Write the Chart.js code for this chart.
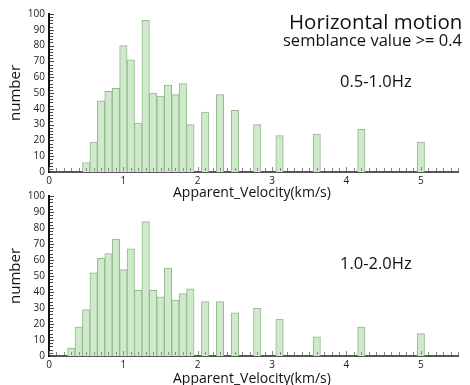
<!DOCTYPE html>
<html lang="en">
<head>
  <meta charset="UTF-8" />
  <title>Horizontal motion</title>
  <script src="https://cdn.jsdelivr.net/npm/chart.js"></script>
  <style>
    body {
      margin: 0;
      background: #fff;
      font-family: 'Open Sans', 'Liberation Sans', sans-serif;
    }
    .page {
      position: relative;
      width: 470px;
      height: 385px;
      overflow: hidden;
    }
    .box {
      position: absolute;
      left: 0;
      width: 470px;
      height: 200px;
    }
    .txt {
      position: absolute;
      color: #111;
      white-space: nowrap;
      line-height: 1;
    }
    .ylab {
      position: absolute;
      left: 14px;
      transform: translate(-50%, -50%) rotate(-90deg);
      font-size: 15px;
      line-height: 1;
      color: #111;
    }
  </style>
</head>
<body>
<div class="page">
  <div class="box" style="top:0"><canvas id="topChart"></canvas></div>
  <div class="box" style="top:185px"><canvas id="bottomChart"></canvas></div>

  <div class="txt" style="left:289px; top:11px; font-size:20.5px;">Horizontal motion</div>
  <div class="txt" style="left:283px; top:32px; font-size:16.5px;">semblance value &gt;= 0.4</div>
  <div class="txt" style="left:340px; top:73px; font-size:16.5px;">0.5-1.0Hz</div>
  <div class="txt" style="left:340px; top:255px; font-size:16.5px;">1.0-2.0Hz</div>

  <div class="ylab" style="top:93px">number</div>
  <div class="ylab" style="top:276px">number</div>

  <div class="txt" style="left:173px; top:185px; font-size:14px;">Apparent_Velocity(km/s)</div>
  <div class="txt" style="left:173px; top:371px; font-size:14px;">Apparent_Velocity(km/s)</div>
</div>

<script>
  // apparent velocity bins (km/s) and counts, 0.5-1.0Hz
  const topVelocity = [0.5, 0.6, 0.7, 0.8, 0.9, 1.0, 1.1, 1.2, 1.3, 1.4, 1.5, 1.6, 1.7, 1.8, 1.9,
                       2.1, 2.3, 2.5, 2.8, 3.1, 3.6, 4.2, 5.0];
  const topCount = [6, 19, 45, 51, 53, 80, 71, 31, 96, 50, 48, 55, 49, 56, 30,
                    38, 49, 39, 30, 23, 24, 27, 19];

  // 1.0-2.0Hz
  const bottomVelocity = [0.3, 0.4, 0.5, 0.6, 0.7, 0.8, 0.9, 1.0, 1.1, 1.2, 1.3, 1.4, 1.5, 1.6, 1.7, 1.8, 1.9,
                          2.1, 2.3, 2.5, 2.8, 3.1, 3.6, 4.2, 5.0];
  const bottomCount = [5, 18, 29, 52, 61, 64, 73, 54, 67, 41, 84, 41, 37, 55, 35, 39, 42,
                       34, 34, 27, 30, 23, 12, 18, 14];

  const xTickLabels = [0, 1, 2, 3, 4, 5];
  const yTickLabels = [0, 10, 20, 30, 40, 50, 60, 70, 80, 90, 100];

  // small ticks pointing into the plot, like the original figure
  const innerTicks = {
    id: 'innerTicks',
    afterDraw(chart) {
      const ctx = chart.ctx;
      const xs = chart.scales.x, ys = chart.scales.y;
      ctx.save();
      ctx.lineWidth = 1;
      ctx.strokeStyle = '#888';
      for (let i = 0; i <= 55; i++) {
        const px = Math.round(xs.getPixelForValue(i / 10)) + 0.5;
        const len = i % 10 === 0 ? 4 : 3;
        ctx.beginPath();
        ctx.moveTo(px, xs.top - 1);
        ctx.lineTo(px, xs.top - 1 - len);
        ctx.stroke();
      }
      ctx.strokeStyle = '#444';
      for (let v = 0; v <= 100; v += 2) {
        const py = Math.round(ys.getPixelForValue(v)) + 0.5;
        const len = v % 10 === 0 ? 4 : 3;
        ctx.beginPath();
        ctx.moveTo(ys.right + 1, py);
        ctx.lineTo(ys.right + 1 + len, py);
        ctx.stroke();
      }
      ctx.restore();
    }
  };

  function makeChart(id, velocity, count, padTop, xHeight) {
    return new Chart(document.getElementById(id), {
      type: 'bar',
      data: {
        datasets: [{
          data: velocity.map((v, i) => ({ x: v, y: count[i] })),
          backgroundColor: '#cfeacb',
          borderColor: '#93b98d',
          borderWidth: 1,
          barPercentage: 1,
          categoryPercentage: 1
        }]
      },
      options: {
        responsive: false,
        animation: false,
        layout: { padding: { top: padTop, right: 12, left: 0, bottom: 0 } },
        plugins: { legend: { display: false }, tooltip: { enabled: false } },
        scales: {
          x: {
            type: 'linear',
            min: 0,
            max: 5.5,
            offset: false,
            afterBuildTicks: s => { s.ticks = xTickLabels.map(v => ({ value: v })); },
            afterFit: s => { s.height = xHeight; },
            grid: { display: false, drawTicks: false },
            border: { color: '#555', width: 2 },
            ticks: {
              color: '#222',
              padding: 3,
              font: { family: 'Open Sans, Liberation Sans, sans-serif', size: 10 }
            }
          },
          y: {
            min: 0,
            max: 100,
            afterBuildTicks: s => { s.ticks = yTickLabels.map(v => ({ value: v })); },
            afterFit: s => { s.width = 49; },
            grid: { display: false, drawTicks: false },
            border: { color: '#111', width: 2 },
            ticks: {
              color: '#222',
              padding: 4,
              font: { family: 'Open Sans, Liberation Sans, sans-serif', size: 10 }
            }
          }
        }
      },
      plugins: [innerTicks]
    });
  }

  function sizeCanvas(id, h) {
    const c = document.getElementById(id);
    c.width = 470; c.height = h;
    c.style.width = '470px'; c.style.height = h + 'px';
  }

  sizeCanvas('topChart', 200);
  sizeCanvas('bottomChart', 200);
  makeChart('topChart', topVelocity, topCount, 14, 28);
  makeChart('bottomChart', bottomVelocity, bottomCount, 11, 29);
</script>
</body>
</html>
